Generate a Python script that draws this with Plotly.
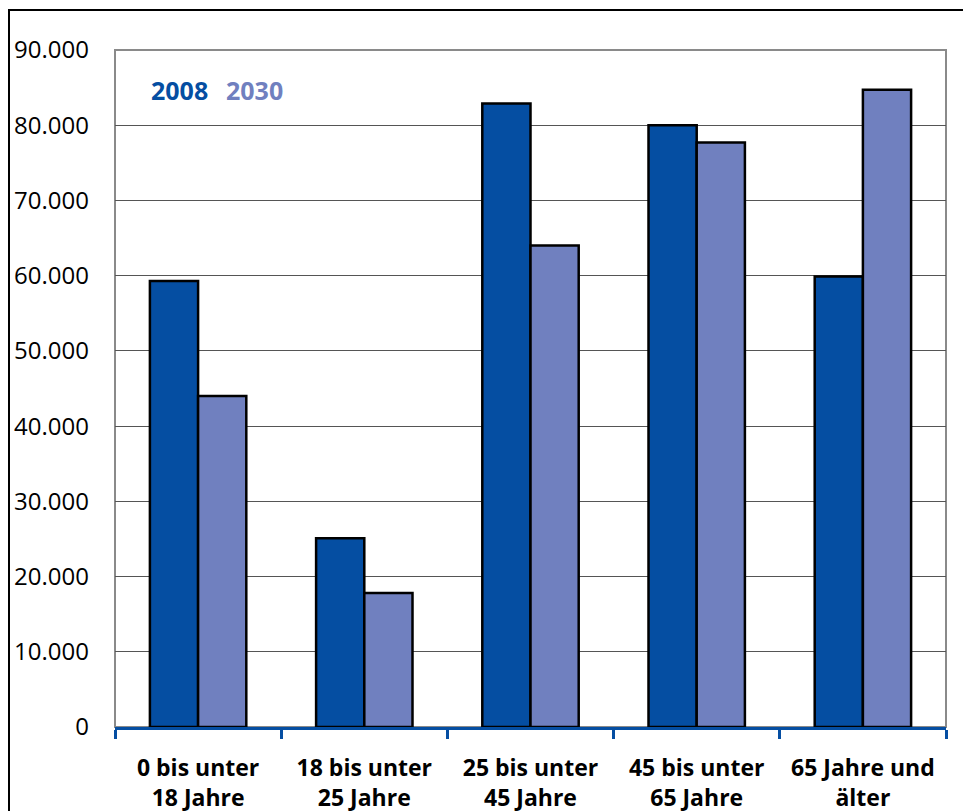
import plotly.graph_objects as go

categories = ["0 bis unter<br>18 Jahre", "18 bis unter<br>25 Jahre", "25 bis unter<br>45 Jahre",
              "45 bis unter<br>65 Jahre", "65 Jahre und<br>älter"]
values_2008 = [59300, 25100, 82900, 80000, 59900]
values_2030 = [44000, 17800, 64000, 77700, 84700]
y_ticks = [0, 10000, 20000, 30000, 40000, 50000, 60000, 70000, 80000, 90000]

DARK = "#054EA2"
LIGHT = "#7080BF"
FONT = "Open Sans"

fig = go.Figure()
fig.add_trace(go.Bar(x=categories, y=values_2008, name="2008",
                     marker=dict(color=DARK, line=dict(color="black", width=2.5))))
fig.add_trace(go.Bar(x=categories, y=values_2030, name="2030",
                     marker=dict(color=LIGHT, line=dict(color="black", width=2.5))))

OFF = 8  # page body margin
W, H = 971 - OFF, 811 - OFF
L, R, T = 115 - OFF, 25, 50 - OFF
B = H - (727 - OFF)
pw, ph = W - L - R, H - T - B

def px_x(x):
    return (x - OFF - L) / pw

def px_y(y):
    return 1 - (y - OFF - T) / ph

fig.update_layout(
    width=W, height=H,
    margin=dict(l=L, r=R, t=T, b=B, pad=0, autoexpand=False),
    paper_bgcolor="white", plot_bgcolor="white",
    barmode="group", bargap=0.42, bargroupgap=0,
    showlegend=False,
    separators=",.",
    font=dict(family=FONT, color="black"),
    xaxis=dict(
        automargin=False,
        showline=True, linecolor=DARK, linewidth=3,
        ticks="outside", tickson="boundaries", ticklen=9, tickwidth=3, tickcolor=DARK,
        tickfont=dict(size=23, family=FONT, color="black", weight="bold"),
        ticklabelstandoff=18,
        showgrid=False, zeroline=False,
    ),
    yaxis=dict(
        automargin=False,
        range=[0, 90000], tickvals=y_ticks, tickformat=",d",
        showgrid=True, gridcolor="#555555", gridwidth=1,
        zeroline=False, showline=False,
        tickfont=dict(size=24, family=FONT, color="black"),
        ticks="", ticklabelstandoff=25,
    ),
    shapes=[
        dict(type="rect", xref="paper", yref="paper", x0=0, x1=1, y0=0, y1=1,
             line=dict(color="#8a8a8a", width=2), layer="below"),
        dict(type="rect", xref="paper", yref="paper",
             x0=px_x(9), x1=px_x(970),
             y0=px_y(830), y1=px_y(10),
             line=dict(color="black", width=2), layer="above"),
    ],
    annotations=[
        dict(text="<b>2008</b>", xref="paper", yref="paper", x=px_x(149), y=px_y(90),
             xanchor="left", yanchor="middle", showarrow=False,
             font=dict(size=25, color=DARK, family=FONT)),
        dict(text="<b>2030</b>", xref="paper", yref="paper", x=px_x(224), y=px_y(90),
             xanchor="left", yanchor="middle", showarrow=False,
             font=dict(size=25, color=LIGHT, family=FONT)),
    ],
)

fig.write_html("out.html")
